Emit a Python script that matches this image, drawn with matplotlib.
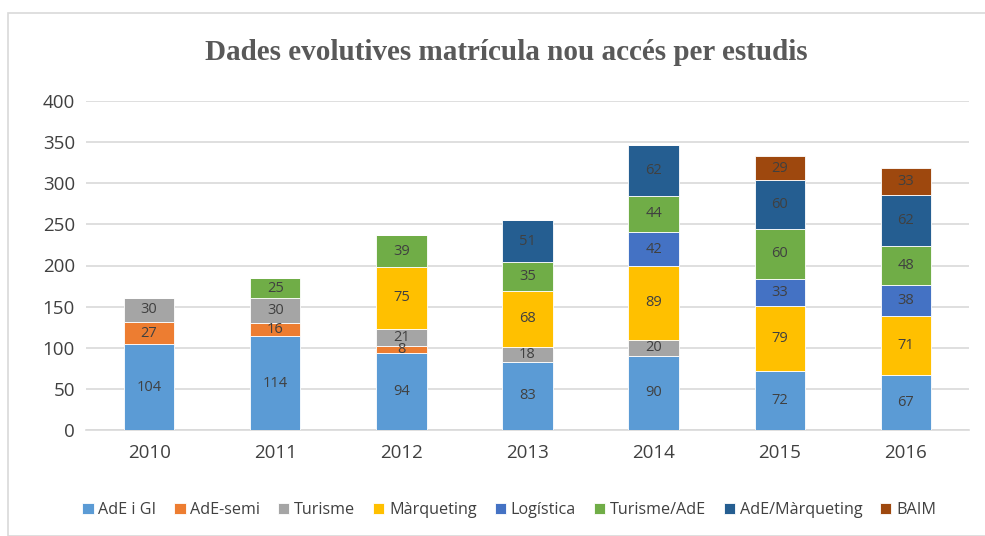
import numpy as np
import matplotlib.pyplot as plt
from matplotlib.patches import Rectangle

years = ["2010", "2011", "2012", "2013", "2014", "2015", "2016"]
series = ["AdE i GI", "AdE-semi", "Turisme", "Màrqueting", "Logística",
          "Turisme/AdE", "AdE/Màrqueting", "BAIM"]
ade_gi = [104, 114, 94, 83, 90, 72, 67]
ade_semi = [27, 16, 8, 0, 0, 0, 0]
turisme = [30, 30, 21, 18, 20, 0, 0]
marqueting = [0, 0, 75, 68, 89, 79, 71]
logistica = [0, 0, 0, 0, 42, 33, 38]
turisme_ade = [0, 25, 39, 35, 44, 60, 48]
ade_marq = [0, 0, 0, 51, 62, 60, 62]
baim = [0, 0, 0, 0, 0, 29, 33]
colors = ["#5B9BD5", "#ED7D31", "#A5A5A5", "#FFC000", "#4472C4",
          "#70AD47", "#255E91", "#9E480E"]

data = [ade_gi, ade_semi, turisme, marqueting, logistica, turisme_ade, ade_marq, baim]

plt.rcParams['font.family'] = ['Open Sans', 'DejaVu Sans']
fig = plt.figure(figsize=(9.85, 5.36), dpi=100)
fig.patches.append(Rectangle((8 / 985, 0), 1, 1 - 13 / 536, transform=fig.transFigure,
                             fill=False, edgecolor="#d9d9d9", linewidth=1.2))
ax = fig.add_axes([86 / 985, 1 - 430 / 536, (969 - 86) / 985, (430 - 101) / 536])

x = np.arange(len(years))
bottom = np.zeros(len(years))
for name, vals, c in zip(series, data, colors):
    vals = np.array(vals, dtype=float)
    bars = ax.bar(x, vals, 0.4, bottom=bottom, color=c, label=name, zorder=3,
                  edgecolor="white", linewidth=0.6)
    for b, v, btm in zip(bars, vals, bottom):
        if v > 0:
            ax.text(b.get_x() + b.get_width() / 2, btm + v / 2, "%d" % v,
                    ha="center", va="center", fontsize=10.5, color="#404040", zorder=4)
    bottom += vals

ax.set_ylim(0, 400)
ax.set_xlim(-0.5, len(years) - 0.5)
ax.set_yticks(range(0, 401, 50))
ax.set_xticks(x)
ax.set_xticklabels(years)
ax.tick_params(axis="both", length=0, labelsize=13.5, colors="#404040")
ax.tick_params(axis="x", pad=10)
ax.tick_params(axis="y", pad=8)
ax.grid(axis="y", color="#d9d9d9", linewidth=1.2, zorder=0)
for s in ["top", "right", "left"]:
    ax.spines[s].set_visible(False)
ax.spines["bottom"].set_color("#d9d9d9")
ax.spines["bottom"].set_linewidth(1.2)

fig.text(0.514, 1 - 52 / 536, "Dades evolutives matrícula nou accés per estudis",
         ha="center", va="center", fontsize=21, fontweight="bold",
         family="Liberation Serif", color="#595959")

fig.legend(loc="center", bbox_to_anchor=(0.517, 1 - 510 / 536), ncol=8, frameon=False,
           fontsize=11.6, handlelength=0.7, handleheight=0.7, handletextpad=0.3,
           columnspacing=1.1, labelcolor="#404040")

fig.savefig("out.png", dpi=100)
